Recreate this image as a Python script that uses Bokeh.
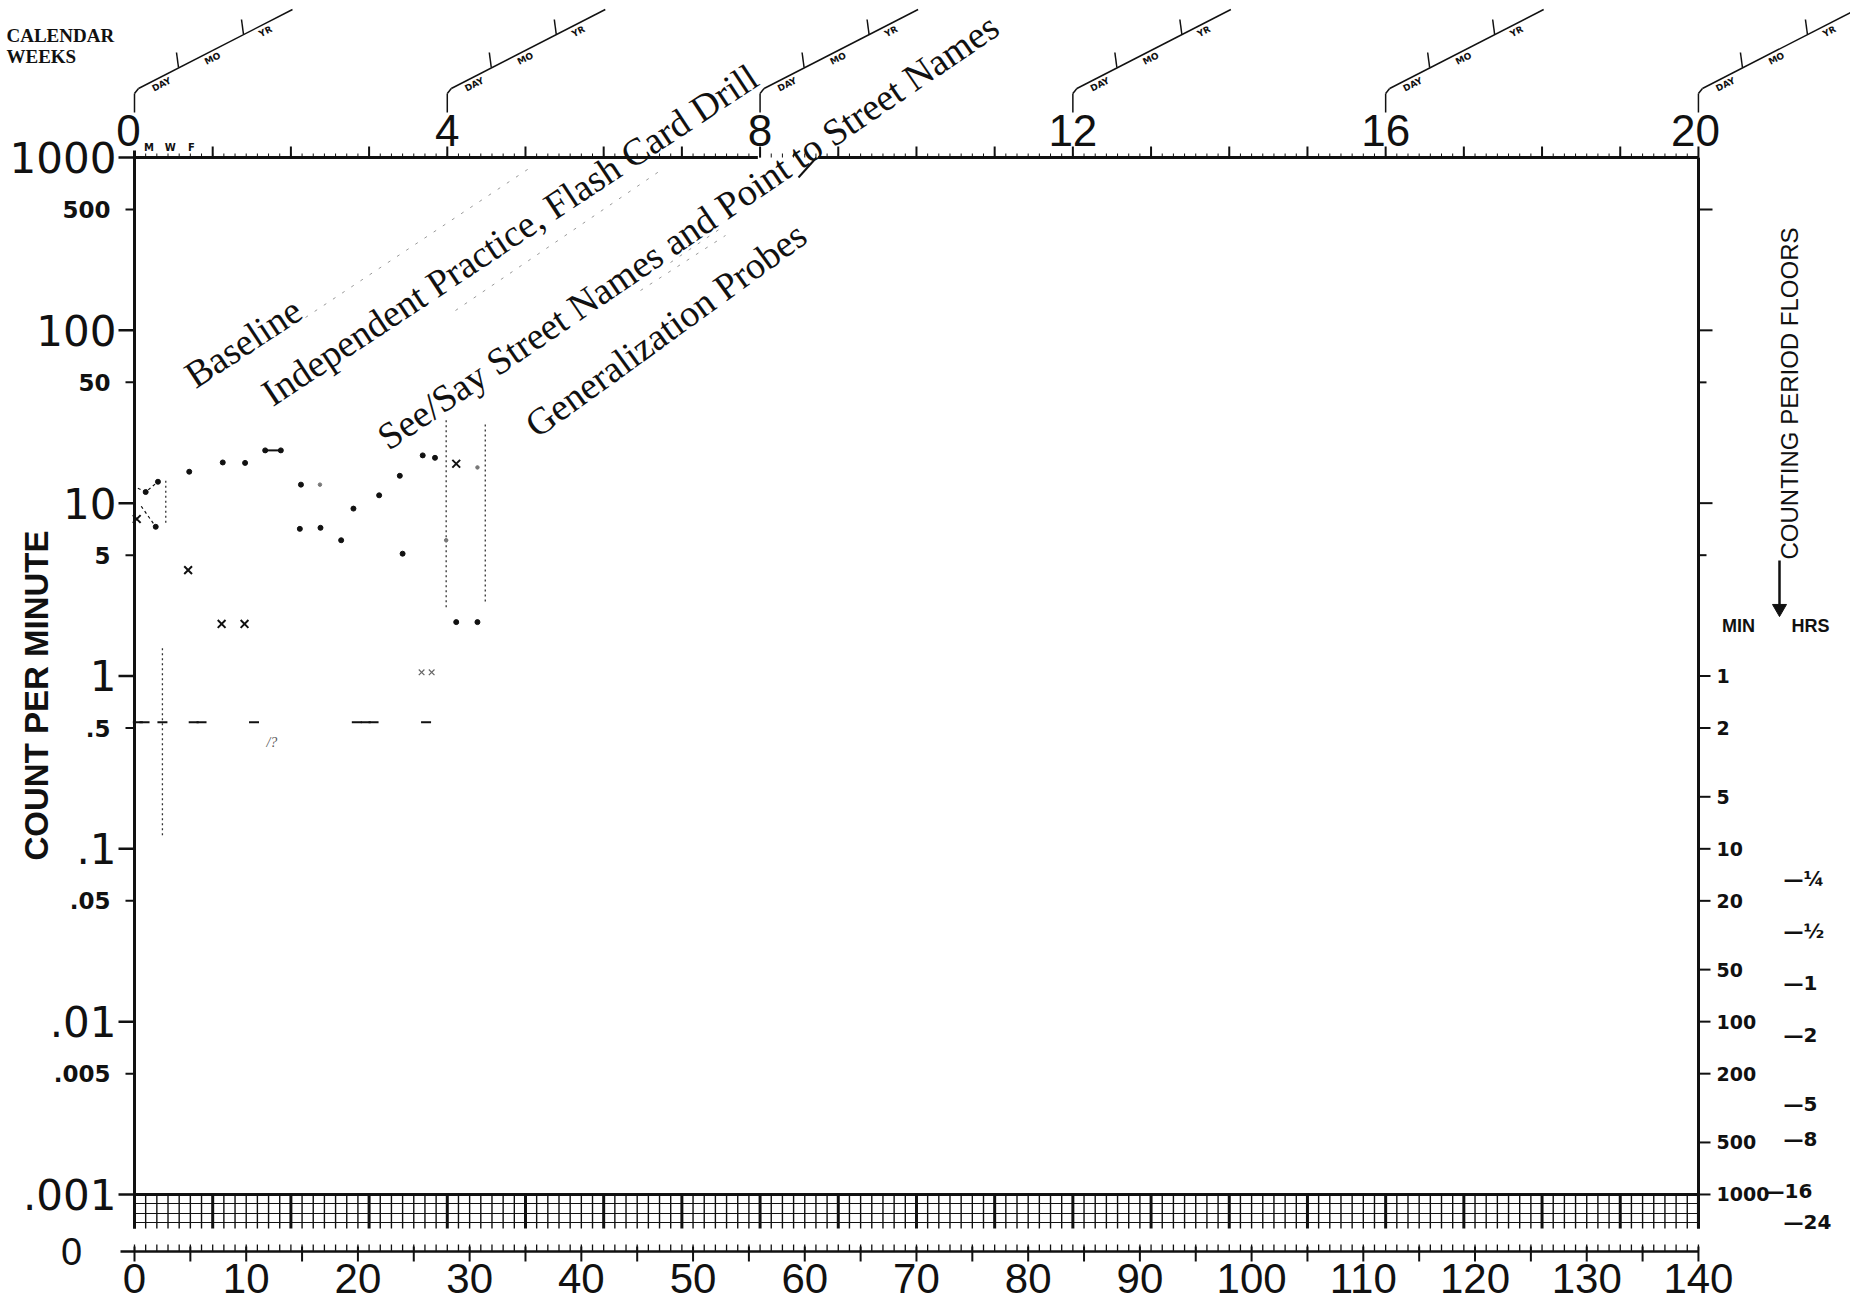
import math
from bokeh.plotting import figure
from bokeh.models import Range1d, LinearScale
from bokeh.core.properties import value
from bokeh.embed import file_html
from bokeh.resources import INLINE

# ---------------- chart values ----------------
decade_values = [1000, 100, 10, 1, 0.1, 0.01, 0.001]
decade_labels = ["1000", "100", "10", "1", ".1", ".01", ".001"]
mid_values = [500, 50, 5, 0.5, 0.05, 0.005]
mid_labels = ["500", "50", "5", ".5", ".05", ".005"]
day_ticks = [0, 10, 20, 30, 40, 50, 60, 70, 80, 90, 100, 110, 120, 130, 140]
day_labels = ["0", "10", "20", "30", "40", "50", "60", "70", "80", "90", "100", "110", "120", "130", "140"]
week_days = [0, 28, 56, 84, 112, 140]
week_labels = ["0", "4", "8", "12", "16", "20"]
weekday_days = [1.3, 3.2, 5.1]
weekday_labels = ["M", "W", "F"]
floor_minutes = [1, 2, 5, 10, 20, 50, 100, 200, 500, 1000]
floor_minute_labels = ["1", "2", "5", "10", "20", "50", "100", "200", "500", "1000"]
floor_hour_minutes = [15, 30, 60, 120, 300, 480, 960, 1440]
floor_hour_labels = ["\u2014\u00bc", "\u2014\u00bd", "\u2014" + "1", "\u2014" + "2", "\u2014" + "5",
                     "\u2014" + "8", "\u2014" + "16", "\u2014" + "24"]
upper_right_ticks = [500, 100, 50, 10, 5]
phase_names = ["Baseline",
               "Independent Practice, Flash Card Drill",
               "See/Say Street Names and Point to Street Names",
               "Generalization Probes"]

# correct responses (dots)
corr_days = [1.0, 2.1, 4.9, 7.9, 9.9, 11.7, 13.1, 14.9, 19.6, 21.9, 23.75, 25.8, 26.9]
corr_vals = [11.6, 13.3, 15.2, 17.2, 17.1, 20.2, 20.2, 12.8, 9.3, 11.1, 14.4, 18.9, 18.3]
faint_days = [16.6, 30.7, 27.9]
faint_vals = [12.8, 16.1, 6.1]
# second measure (dots)
sec_days = [1.9, 14.8, 16.65, 18.5, 24.0, 28.8, 30.7]
sec_vals = [7.3, 7.1, 7.2, 6.1, 5.1, 2.05, 2.05]
# errors (x)
err_days = [0.2, 4.8, 7.8, 9.85, 28.8]
err_vals = [8.1, 4.1, 2.0, 2.0, 16.9]
faint_err_days = [25.7, 26.6]
faint_err_vals = [1.05, 1.05]
# baseline connecting lines
base_a_days = [0.3, 1.0, 2.1]
base_a_vals = [12.2, 11.6, 13.3]
base_b_days = [0.6, 1.9]
base_b_vals = [9.6, 7.3]
join_days = [11.7, 13.1]
join_vals = [20.2, 20.2]
# record floors
floor_days = [0.3, 0.9, 2.5, 5.3, 6.0, 10.7, 19.9, 20.7, 21.4, 26.1]
floor_val = 0.54
# phase change lines (dotted)
phase_line_days = [2.5, 2.8, 27.9, 31.4]
phase_line_lo = [0.12, 7.7, 2.5, 2.7]
phase_line_hi = [1.5, 14.0, 31.0, 29.0]

# ---------------- layout ----------------
W, H = 1850, 1304
X0 = 134.0        # px of day 0
PXD = 11.171      # px per day
YT = 157.0        # px of 1000
PXDEC = 172.83    # px per decade

x_range = Range1d((0 - X0) / PXD, (W - X0) / PXD)
y_range = Range1d(10 ** (3 - (H - YT) / PXDEC), 10 ** (3 + YT / PXDEC))

p = figure(width=W, height=H, x_range=x_range, y_range=y_range, y_axis_type="log",
           x_axis_location=None, y_axis_location=None, toolbar_location=None,
           output_backend="svg", min_border=0)
p.outline_line_color = None
p.xgrid.visible = False
p.ygrid.visible = False
p.background_fill_color = "white"
p.border_fill_color = "white"
p.extra_x_ranges = {"px": Range1d(0, W)}
p.extra_y_ranges = {"px": Range1d(H, 0)}
p.extra_x_scales = {"px": LinearScale()}
p.extra_y_scales = {"px": LinearScale()}

INK = "#111111"


def S(x0, y0, x1, y1, width=1.5, xr="default", yr="default", color=INK, dash="solid", alpha=1.0):
    p.segment(x0=x0, y0=y0, x1=x1, y1=y1, line_width=width, line_color=color,
              line_dash=dash, line_alpha=alpha, x_range_name=xr, y_range_name=yr)


def T(x, y, text, size, font="DejaVu Sans", style="normal", align="center", baseline="middle",
      angle=0.0, xr="default", yr="default", color=INK, x_offset=0):
    p.text(x=x, y=y, text=text, text_font=value(font), text_font_size=value(f"{size}px"),
           text_font_style=style, text_align=align, text_baseline=baseline, angle=angle,
           text_color=color, x_range_name=xr, y_range_name=yr, x_offset=x_offset)


def d(px):
    return px / PXD


all_days = list(range(0, 141))

# ---- chart frame ----
S([X0, 1698], [150, 157], [X0, 1698], [1228, 1228], width=3, xr="px", yr="px")
S([0, 61.2], [1000, 1000], [55.8, 140], [1000, 1000], width=3)
S([798], [177], [816], [157], width=2, xr="px", yr="px")
S([0], [0.001], [140], [0.001], width=3)
# hash grid below .001
S(all_days, [1194] * 141, all_days, [1228] * 141,
  width=[3 if k % 7 == 0 else 1.4 for k in all_days], yr="px")
S([0, 0, 0], [1203, 1213, 1222], [140, 140, 140], [1203, 1213, 1222], width=1.2, yr="px")
# zero line
S([120], [1251], [1698], [1251], width=2.5, xr="px", yr="px")
S(all_days, [1244] * 141, all_days, [1251] * 141, width=1.3, yr="px")
d5 = list(range(0, 141, 5))
S(d5, [1246] * len(d5), d5, [1261] * len(d5), width=2, yr="px")
T([71], [1251], ["0"], 38, font="Liberation Sans", xr="px", yr="px")

# ---- left axis ----
S([118] * 7, decade_values, [X0] * 7, decade_values, width=2.5, xr="px")
S([125] * 6, mid_values, [X0] * 6, mid_values, width=2, xr="px")
T([116] * 7, decade_values, decade_labels, 42, align="right", xr="px")
T([110] * 6, mid_values, mid_labels, 23, style="bold", align="right", xr="px")
T([36], [695], ["COUNT PER MINUTE"], 33, font="Liberation Sans", style="bold",
  baseline="alphabetic", angle=math.pi / 2, xr="px", yr="px")

# ---- bottom labels ----
T(day_ticks, [1278] * len(day_ticks), day_labels, 42, font="Liberation Sans", yr="px")

# ---- top axis ----
d7 = list(range(7, 141, 7))
S(d7, [146] * len(d7), d7, [157] * len(d7), width=2, yr="px")
S(all_days, [153] * 141, all_days, [157] * 141, width=1, yr="px")
T(week_days, [130] * 6, week_labels, 44, font="Liberation Sans", yr="px",
  x_offset=[-6, 0, 0, 0, 0, -3])
T(weekday_days, [147] * 3, weekday_labels, 10, style="bold", yr="px")

# calendar brackets
bx0, by0, bx1, by1 = [], [], [], []
tx, ty, tt = [], [], []
for wd in week_days:
    for (a, b, c, e) in [(0, 112, 0, 93), (0, 93, 4, 88), (4, 88, 158, 9),
                         (44, 67, 42, 52), (109, 34, 107, 19)]:
        bx0.append(wd + d(a)); by0.append(b); bx1.append(wd + d(c)); by1.append(e)
    for (a, b, s) in [(27, 84, "DAY"), (78, 58, "MO"), (131, 31, "YR")]:
        tx.append(wd + d(a)); ty.append(b); tt.append(s)
S(bx0, by0, bx1, by1, width=1.5, yr="px")
T(tx, ty, tt, 9, style="bold", angle=math.radians(27), yr="px")
T([6], [35], ["CALENDAR"], 19, font="Liberation Serif", style="bold", align="left", xr="px", yr="px")
T([6], [56], ["WEEKS"], 19, font="Liberation Serif", style="bold", align="left", xr="px", yr="px")

# ---- right axis ----
fm_vals = [1.0 / m for m in floor_minutes]
S([1698] * len(fm_vals), fm_vals, [1710] * len(fm_vals), fm_vals, width=2, xr="px")
S([1698] * 5, upper_right_ticks, [1712, 1712, 1706, 1712, 1706], upper_right_ticks, width=2, xr="px")
T([1716] * len(fm_vals), fm_vals, floor_minute_labels, 19, style="bold", align="left", xr="px")
fh_vals = [1.0 / m for m in floor_hour_minutes]
T([1783, 1783, 1783, 1783, 1783, 1783, 1764, 1783], fh_vals, floor_hour_labels, 20,
  style="bold", align="left", xr="px")
T([1789], [393], ["COUNTING PERIOD FLOORS"], 24, font="Liberation Sans",
  baseline="alphabetic", angle=math.pi / 2, xr="px", yr="px")
S([1779], [560], [1779], [604], width=2.5, xr="px", yr="px")
p.scatter(x=[1779], y=[608], marker="inverted_triangle", size=14, fill_color=INK,
          line_color=INK, x_range_name="px", y_range_name="px")
T([1738, 1810], [625, 625], ["MIN", "HRS"], 18, font="Liberation Sans", style="bold", xr="px", yr="px")

# ---- phase labels and leaders ----
T([188], [378], [phase_names[0]], 38, font="Liberation Serif", align="left", baseline="alphabetic",
  angle=math.radians(33.5), xr="px", yr="px")
T([265], [396], [phase_names[1]], 38, font="Liberation Serif", align="left", baseline="alphabetic",
  angle=math.radians(33.5), xr="px", yr="px")
T([381], [440], [phase_names[2]], 38, font="Liberation Serif", align="left", baseline="alphabetic",
  angle=math.radians(34.3), xr="px", yr="px")
T([529], [428], [phase_names[3]], 38, font="Liberation Serif", align="left", baseline="alphabetic",
  angle=math.radians(36.0), xr="px", yr="px")
S([305, 455, 670, 640], [317, 310, 262, 290], [530, 660, 720, 725], [167, 170, 228, 235],
  width=1, color="#9a9a9a", dash="3 8", xr="px", yr="px")

# ---- data ----
S(phase_line_days, phase_line_lo, phase_line_days, phase_line_hi, width=1.3, dash="2 3", color="#333333")
p.line(base_a_days, base_a_vals, line_width=1.2, line_dash="3 3", line_color=INK)
p.line(base_b_days, base_b_vals, line_width=1.2, line_dash="3 3", line_color=INK)
p.line(join_days, join_vals, line_width=2, line_color=INK)
p.scatter(floor_days, [floor_val] * len(floor_days), marker="dash", size=10, line_width=2, line_color=INK)
p.scatter(corr_days, corr_vals, marker="circle", size=5, fill_color=INK, line_color=INK)
p.scatter(sec_days, sec_vals, marker="circle", size=5, fill_color=INK, line_color=INK)
p.scatter(faint_days, faint_vals, marker="circle", size=3.5, fill_color="#777777", line_color="#777777")
p.scatter(err_days, err_vals, marker="x", size=11, line_width=2, line_color=INK)
p.scatter(faint_err_days, faint_err_vals, marker="x", size=8, line_width=1.2, line_color="#666666")
T([12.3], [0.41], ["/?"], 14, font="Liberation Serif", style="italic", color="#555555")

open("out.html", "w").write(file_html(p, INLINE))
